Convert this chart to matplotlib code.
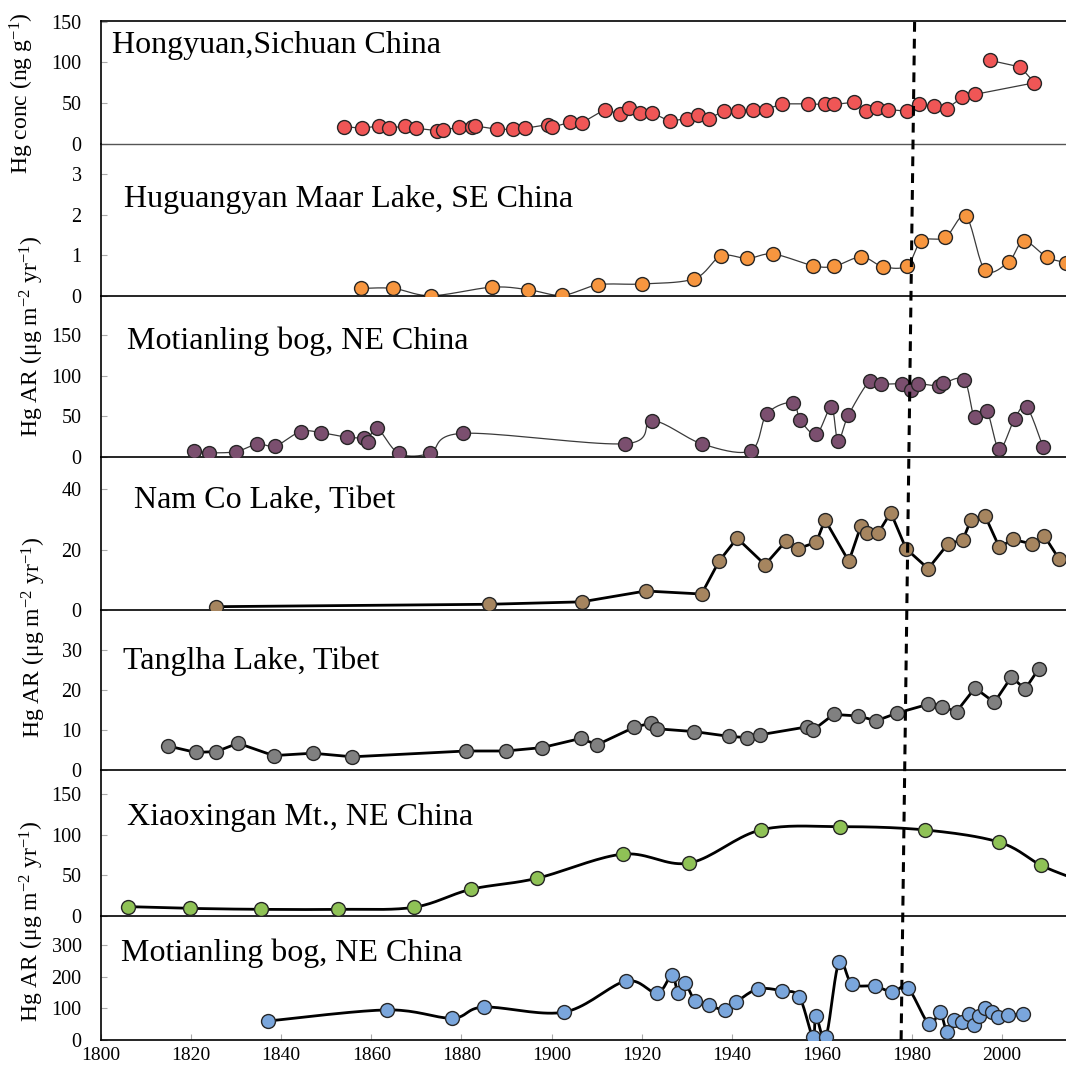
import matplotlib
matplotlib.use("Agg")
import matplotlib.pyplot as plt
import numpy as np

plt.rcParams['font.family'] = ['Liberation Serif', 'DejaVu Serif']
plt.rcParams['mathtext.fontset'] = 'custom'
plt.rcParams['mathtext.rm'] = 'Liberation Serif'
plt.rcParams['mathtext.default'] = 'regular'

# ---- data (year, value) ----
hong_years = [1854.0, 1857.9, 1861.7, 1864.0, 1867.4, 1869.9, 1874.5, 1875.9, 1879.5, 1882.3,
              1883.1, 1888.0, 1891.5, 1894.2, 1899.2, 1900.2, 1904.0, 1906.7, 1911.8, 1915.2,
              1917.2, 1919.6, 1922.4, 1926.2, 1930.0, 1932.6, 1934.9, 1938.3, 1941.5, 1944.8,
              1947.5, 1951.2, 1956.9, 1960.7, 1962.6, 1967.2, 1969.8, 1972.3, 1974.8, 1978.9,
              1981.6, 1984.8, 1987.7, 1991.2, 1993.9, 2007.2, 2004.1, 1997.3]
hong_conc = [21.3, 19.3, 22.1, 19.3, 22.1, 19.3, 16.4, 17.2, 20.5, 20.5,
             22.1, 18.0, 18.0, 19.3, 23.8, 20.5, 26.6, 25.8, 42.2, 36.9,
             44.3, 38.1, 38.1, 27.9, 31.1, 35.2, 30.7, 41.0, 41.0, 41.4,
             42.2, 49.2, 49.2, 48.4, 48.4, 51.2, 41.0, 44.3, 42.2, 40.2,
             48.4, 46.3, 43.0, 57.4, 60.7, 75.0, 94.3, 102.5]

hugu_years = [1857.7, 1864.9, 1873.3, 1886.7, 1894.8, 1902.4, 1910.4, 1920.1, 1931.7, 1937.6,
              1943.5, 1949.2, 1958.1, 1962.8, 1968.8, 1973.5, 1978.9, 1982.1, 1987.4, 1992.0,
              1996.2, 2001.5, 2004.8, 2010.0, 2014.2]
hugu_ar = [0.18, 0.18, 0.0, 0.21, 0.15, 0.01, 0.27, 0.29, 0.42, 0.98,
           0.92, 1.03, 0.74, 0.73, 0.96, 0.72, 0.74, 1.35, 1.44, 1.96,
           0.64, 0.84, 1.35, 0.95, 0.82]

moti_years = [1820.6, 1823.9, 1829.9, 1834.7, 1838.7, 1844.3, 1848.9, 1854.6, 1858.4, 1859.2,
              1861.3, 1866.1, 1873.0, 1880.4, 1916.3, 1922.4, 1933.5, 1944.2, 1947.8, 1953.5,
              1955.2, 1958.8, 1962.1, 1963.6, 1965.9, 1970.6, 1973.2, 1977.9, 1979.8, 1981.4,
              1985.9, 1987.0, 1991.6, 1993.9, 1996.6, 1999.4, 2002.8, 2005.5, 2009.1]
moti_ar = [8.2, 5.7, 6.9, 16.3, 13.9, 31.5, 30.2, 24.5, 23.3, 19.2,
           35.5, 4.9, 4.9, 29.4, 16.6, 44.7, 16.2, 8.1, 53.2, 67.0,
           45.9, 28.4, 61.3, 20.3, 51.6, 93.4, 89.7, 89.7, 82.4, 89.7,
           87.3, 90.5, 94.6, 49.1, 57.2, 10.2, 47.5, 61.3, 12.6]

namco_years = [1825.6, 1886.2, 1906.7, 1920.9, 1933.3, 1937.2, 1941.2, 1947.4, 1952.0, 1954.7,
               1958.8, 1960.7, 1966.0, 1968.7, 1970.1, 1972.5, 1975.3, 1978.7, 1983.6, 1988.0,
               1991.3, 1993.1, 1996.2, 1999.4, 2002.4, 2006.6, 2009.4, 2012.7, 2016.0]
namco_ar = [1.1, 1.9, 2.7, 6.3, 5.3, 16.2, 23.8, 15.0, 22.8, 20.3,
            22.5, 29.9, 16.1, 28.0, 25.5, 25.5, 32.3, 20.3, 13.7, 21.9,
            23.2, 29.9, 31.3, 20.8, 23.4, 21.9, 24.5, 16.8, 15.5]

tang_years = [1814.9, 1821.0, 1825.6, 1830.4, 1838.3, 1847.0, 1855.8, 1881.0, 1889.8, 1897.9,
              1906.5, 1910.1, 1918.4, 1922.0, 1923.5, 1931.7, 1939.5, 1943.4, 1946.3, 1956.8,
              1958.1, 1962.6, 1968.1, 1972.1, 1976.6, 1983.5, 1986.7, 1989.9, 1994.0, 1998.3,
              2002.1, 2005.1, 2008.1]
tang_ar = [6.0, 4.4, 4.6, 6.7, 3.6, 4.2, 3.3, 4.75, 4.75, 5.6,
           7.9, 6.3, 10.7, 11.7, 10.3, 9.6, 8.4, 8.1, 8.8, 10.8,
           10.0, 13.9, 13.5, 12.3, 14.2, 16.4, 15.8, 14.6, 20.5, 16.9,
           23.3, 20.2, 25.2]

xiao_years = [1806.1, 1819.8, 1835.5, 1852.7, 1869.4, 1882.1, 1896.7, 1915.8, 1930.5, 1946.4,
              1964.1, 1983.0, 1999.4, 2008.7, 2016.0]
xiao_ar = [11.5, 9.4, 8.2, 8.2, 10.7, 32.8, 46.3, 76.1, 65.1, 105.8,
           109.9, 105.8, 90.8, 62.3, 46.0]

moti2_years = [1837.1, 1863.5, 1877.9, 1885.0, 1902.8, 1916.5, 1923.4, 1926.7, 1928.1, 1929.6,
               1931.9, 1935.0, 1938.5, 1941.0, 1945.8, 1951.2, 1955.0, 1958.0, 1958.7, 1960.9,
               1963.8, 1966.7, 1971.8, 1975.6, 1979.1, 1983.8, 1986.2, 1987.8, 1989.3, 1991.1,
               1992.7, 1993.8, 1994.9, 1996.2, 1997.8, 1999.1, 2001.3, 2004.7]
moti2_ar = [60, 95, 69, 104, 88, 186, 148, 205, 148, 180,
            123, 110, 95, 120, 161, 155, 136, 9, 76, 9,
            246, 177, 170, 152, 164, 50, 88, 25, 63, 57,
            82, 47, 76, 101, 88, 73, 79, 82]

W, H = 1066, 1080
XMIN, XMAX = 1800, 2014.2


def smooth(x, y, n=20):
    """bezier smoothing through the points, roughly like excel's smoothed line"""
    x = np.asarray(x, float)
    y = np.asarray(y, float)
    p = np.column_stack([x, y])
    p = np.vstack([p[:1], p, p[-1:]])
    t = np.linspace(0, 1, n)[:, None]
    out = []
    for i in range(1, len(p) - 2):
        p0, p1, p2, p3 = p[i - 1], p[i], p[i + 1], p[i + 2]
        c1 = p1 + (p2 - p0) / 6
        c2 = p2 - (p3 - p1) / 6
        seg = ((1 - t) ** 3) * p1 + 3 * ((1 - t) ** 2) * t * c1 + 3 * (1 - t) * t ** 2 * c2 + t ** 3 * p2
        out.append(seg)
    out = np.vstack(out)
    return out[:, 0], out[:, 1]


def add_panel(top, bottom, ymax, yticks):
    ax = fig.add_axes([101 / W, 1 - bottom / H, 1 - 101 / W, (bottom - top) / H])
    ax.set_xlim(XMIN, XMAX)
    ax.set_ylim(0, ymax)
    ax.set_yticks(yticks)
    ax.patch.set_alpha(0)
    ax.spines['right'].set_visible(False)
    ax.spines['top'].set_visible(False)
    for s in ('left', 'bottom'):
        ax.spines[s].set_color('black')
        ax.spines[s].set_linewidth(1.2)
    ax.tick_params(axis='y', direction='in', length=4, color='#aaaaaa',
                   labelsize=14.5, pad=14)
    ax.tick_params(axis='x', bottom=False, labelbottom=False)
    return ax


fig = plt.figure(figsize=(W / 100, H / 100), dpi=100)

panels = [
    # top px, bottom px, ymax, ticks, years, values, face colour, line, smoothed, title
    (21, 144, 150.7, [0, 50, 100, 150], hong_years, hong_conc, '#f05656', 'thin', False,
     'Hongyuan,Sichuan China', 112, 45),
    (144, 295.7, 3.75, [0, 1, 2, 3], hugu_years, hugu_ar, '#f7963f', 'thin', True,
     'Huguangyan Maar Lake, SE China', 124, 200),
    (295.7, 457.3, 198, [0, 50, 100, 150], moti_years, moti_ar, '#7b4f6f', 'thin', True,
     'Motianling bog, NE China', 127, 341),
    (457.3, 610, 50.6, [0, 20, 40], namco_years, namco_ar, '#a6855f', 'thick', False,
     'Nam Co Lake, Tibet', 134, 500),
    (610, 770, 40, [0, 10, 20, 30], tang_years, tang_ar, '#808080', 'thick', False,
     'Tanglha Lake, Tibet', 123, 661),
    (770, 916, 179.6, [0, 50, 100, 150], xiao_years, xiao_ar, '#8fc256', 'thick', True,
     'Xiaoxingan Mt., NE China', 127, 818),
    (916, 1040, 391.6, [0, 100, 200, 300], moti2_years, moti2_ar, '#7aa6dc', 'thick', True,
     'Motianling bog, NE China', 121, 953),
]

axes = []
for top, bot, ymax, ticks, xs, ys, fc, lstyle, smoothed, title, tx, ty in panels:
    ax = add_panel(top, bot, ymax, ticks)
    if lstyle == 'thin':
        lc, lw = '#3a3a3a', 0.9
    else:
        lc, lw = 'black', 2.0
    if smoothed:
        sx, sy = smooth(xs, ys)
    else:
        sx, sy = xs, ys
    ax.plot(sx, sy, color=lc, lw=lw, zorder=2, clip_on=True)
    ax.plot(xs, ys, 'o', ms=10, mfc=fc, mec='#262626', mew=1.0, zorder=3, clip_on=True)
    fig.text(tx / W, 1 - ty / H, title, fontsize=23, ha='left', va='center')
    axes.append(ax)

# top frame only on the first panel, its zero line is a lighter grey
axes[0].spines['top'].set_visible(True)
axes[0].spines['top'].set_linewidth(1.2)
axes[0].spines['bottom'].set_color('#555555')
axes[0].spines['bottom'].set_linewidth(1.0)

# bottom x axis
axes[-1].tick_params(axis='x', bottom=True, labelbottom=True, direction='in', length=4,
                     color='#aaaaaa', labelsize=14, pad=5)
axes[-1].set_xticks(np.arange(1800, 2001, 20))

# y axis labels
ylab_ar = 'Hg AR (μg m$^{-2}$ yr$^{-1}$)'
fig.text(22 / W, 1 - 93 / H, 'Hg conc (ng g$^{-1}$)', rotation=90, fontsize=17,
         ha='center', va='center')
fig.text(32 / W, 1 - 336 / H, ylab_ar, rotation=90, fontsize=17, ha='center', va='center')
fig.text(34 / W, 1 - 637 / H, ylab_ar, rotation=90, fontsize=17, ha='center', va='center')
fig.text(32 / W, 1 - 921 / H, ylab_ar, rotation=90, fontsize=17, ha='center', va='center')

# dashed reference line across all panels (slightly tilted in the original)
over = fig.add_axes([101 / W, 1 - 1040 / H, 1 - 101 / W, 1019 / H])
over.set_xlim(XMIN, XMAX)
over.set_ylim(0, 1)
over.axis('off')
over.plot([1977.6, 1980.6], [0, 1], color='black', lw=2.2, ls=(0, (3.2, 2.3)))

fig.savefig('out.png', dpi=100)
